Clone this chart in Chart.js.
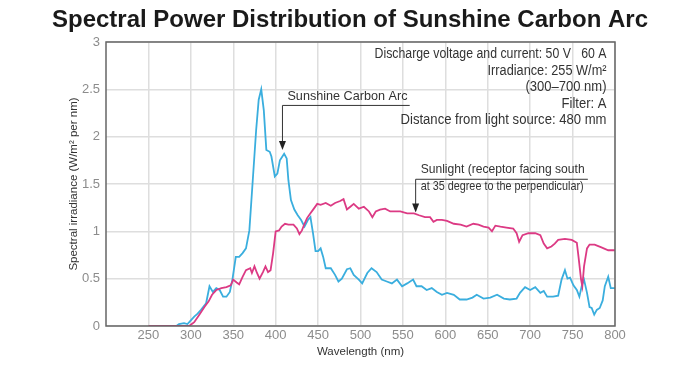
<!DOCTYPE html>
<html>
<head>
<meta charset="utf-8">
<title>Spectral Power Distribution of Sunshine Carbon Arc</title>
<script src="https://cdn.jsdelivr.net/npm/chart.js@4.4.0/dist/chart.umd.min.js"></script>
<style>
  html, body { margin: 0; padding: 0; background: #fff; }
</style>
</head>
<body>
<canvas id="spdChart" width="700" height="371"></canvas>
<script>
// wavelength (nm) and irradiance (W/m2 per nm)
const arcNm = [283, 286, 292, 296, 300, 304, 308, 312, 318, 322, 326, 330, 334, 338, 342, 346, 349, 353, 357, 361,
  365, 369, 373, 377, 380, 383, 386, 389, 393, 395, 399, 402, 405, 410, 413, 415, 418, 422, 426, 430,
  434, 438, 441, 444, 447, 450, 453, 456, 459, 465, 470, 474, 478, 484, 488, 492, 498, 502, 508, 513,
  519, 525, 531, 537, 543, 549, 555, 562, 566, 572, 578, 584, 590, 596, 602, 610, 617, 625, 632, 637,
  645, 653, 661, 669, 676, 684, 688, 694, 700, 706, 712, 716, 720, 727, 733, 737, 741, 744, 747, 751,
  755, 758, 761, 763.5, 767, 770, 772.5, 775.5, 778.5, 782, 785.5, 788, 792, 795, 800];
const arcVal = [0, 0.02, 0.03, 0.02, 0.06, 0.10, 0.13, 0.17, 0.24, 0.42, 0.36, 0.40, 0.38, 0.31, 0.31, 0.36, 0.49, 0.73, 0.73, 0.77,
  0.82, 1.01, 1.54, 2.07, 2.39, 2.50, 2.28, 1.86, 1.84, 1.79, 1.58, 1.61, 1.75, 1.82, 1.77, 1.54, 1.33, 1.23, 1.17, 1.12,
  1.05, 1.12, 1.15, 0.98, 0.79, 0.79, 0.82, 0.73, 0.61, 0.61, 0.54, 0.47, 0.50, 0.60, 0.61, 0.54, 0.49, 0.45, 0.56, 0.61,
  0.57, 0.49, 0.47, 0.45, 0.49, 0.42, 0.45, 0.49, 0.42, 0.42, 0.38, 0.40, 0.36, 0.33, 0.35, 0.33, 0.28, 0.28, 0.30, 0.33,
  0.29, 0.30, 0.33, 0.29, 0.28, 0.29, 0.35, 0.41, 0.38, 0.41, 0.35, 0.37, 0.31, 0.31, 0.32, 0.49, 0.59, 0.50, 0.51, 0.43,
  0.38, 0.31, 0.43, 0.49, 0.35, 0.20, 0.19, 0.12, 0.17, 0.19, 0.27, 0.42, 0.52, 0.40, 0.40];

const sunNm = [250, 298, 304, 310, 316, 321, 325, 330, 336, 342, 347, 350, 354, 357, 361, 365, 370, 372, 375, 378,
  381, 385, 388, 391, 394, 397, 400, 404, 407, 411, 415, 421, 425, 428, 431, 434, 437, 441, 445, 449,
  453, 459, 465, 470, 476, 480, 484, 488, 492, 498, 504, 510, 514, 518, 523, 529, 535, 541, 547, 555,
  563, 569, 576, 582, 586, 590, 596, 602, 610, 618, 625, 633, 639, 645, 651, 655, 659, 665, 672, 680,
  684, 687, 691, 698, 706, 712, 716, 720, 725, 729, 733, 741, 749, 755, 757, 760, 761.5, 763.5, 767, 770,
  776, 784, 792, 800];
const sunVal = [0, 0, 0.04, 0.12, 0.20, 0.26, 0.33, 0.38, 0.40, 0.41, 0.43, 0.49, 0.46, 0.44, 0.52, 0.59, 0.61, 0.56, 0.63, 0.56,
  0.50, 0.57, 0.63, 0.57, 0.59, 0.77, 1.00, 1.01, 1.05, 1.08, 1.07, 1.07, 1.03, 0.97, 1.01, 1.08, 1.14, 1.19, 1.24, 1.29,
  1.28, 1.30, 1.27, 1.30, 1.32, 1.34, 1.23, 1.26, 1.29, 1.24, 1.26, 1.21, 1.15, 1.21, 1.23, 1.24, 1.21, 1.21, 1.21, 1.19,
  1.19, 1.17, 1.15, 1.15, 1.10, 1.12, 1.12, 1.11, 1.08, 1.07, 1.05, 1.08, 1.07, 1.05, 1.04, 1.00, 1.06, 1.05, 1.04, 1.03,
  0.98, 0.89, 0.96, 0.98, 0.98, 0.96, 0.87, 0.82, 0.84, 0.87, 0.91, 0.92, 0.91, 0.88, 0.73, 0.49, 0.42, 0.63, 0.82, 0.86,
  0.86, 0.83, 0.80, 0.80];

const xTicks = [250, 300, 350, 400, 450, 500, 550, 600, 650, 700, 750, 800];
const yTicks = [0, 0.5, 1, 1.5, 2, 2.5, 3];

const chartTitle = 'Spectral Power Distribution of Sunshine Carbon Arc';
const infoLines = [
  'Discharge voltage and current: 50 V   60 A',
  'Irradiance: 255 W/m\u00b2',
  '(300\u2013700 nm)',
  'Filter: A',
  'Distance from light source: 480 mm'
];
const infoWidths = [232, 119, 81, 45, 206];

const FONT = "'Liberation Sans', Arial, Helvetica, sans-serif";
const arcColor = '#3aaede';
const sunColor = '#dc3a84';
const gridColor = '#dedede';
const tickColor = '#8c8c8c';
const textColor = '#333';

function toPoints(xs, ys) {
  return xs.map((v, i) => ({ x: v, y: ys[i] }));
}

function arrowDown(ctx, x, yTop, yTip) {
  ctx.beginPath();
  ctx.moveTo(x, yTop);
  ctx.lineTo(x, yTip - 8);
  ctx.stroke();
  ctx.beginPath();
  ctx.moveTo(x - 3.5, yTip - 9);
  ctx.lineTo(x + 3.5, yTip - 9);
  ctx.lineTo(x, yTip);
  ctx.closePath();
  ctx.fill();
}

// title, frame round the plot, the callouts and the test conditions text
const notes = {
  id: 'notes',
  afterDatasetsDraw(chart) {
    const { ctx, chartArea: a, scales: { x, y } } = chart;
    ctx.save();

    ctx.fillStyle = '#1a1a1a';
    ctx.font = 'bold 24px ' + FONT;
    ctx.textAlign = 'center';
    ctx.textBaseline = 'alphabetic';
    ctx.fillText(chartTitle, chart.width / 2, 27);

    ctx.strokeStyle = '#666';
    ctx.lineWidth = 1.5;
    ctx.strokeRect(a.left, a.top, a.right - a.left, a.bottom - a.top);

    ctx.strokeStyle = '#333';
    ctx.fillStyle = '#222';
    ctx.lineWidth = 1;

    // Sunshine Carbon Arc callout
    let ax = x.getPixelForValue(408), aTop = y.getPixelForValue(2.33);
    ctx.beginPath();
    ctx.moveTo(ax, aTop);
    ctx.lineTo(x.getPixelForValue(558), aTop);
    ctx.stroke();
    arrowDown(ctx, ax, aTop, y.getPixelForValue(1.86));

    // Sunlight callout
    let sx = x.getPixelForValue(565), sTop = y.getPixelForValue(1.55);
    ctx.beginPath();
    ctx.moveTo(sx, sTop);
    ctx.lineTo(x.getPixelForValue(768), sTop);
    ctx.stroke();
    arrowDown(ctx, sx, sTop, y.getPixelForValue(1.20));

    ctx.fillStyle = textColor;
    ctx.font = '13px ' + FONT;
    ctx.textAlign = 'left';
    ctx.fillText('Sunshine Carbon Arc', ax + 5, aTop - 5, 120);
    ctx.fillText('Sunlight (receptor facing south', sx + 5, sTop - 6, 164);
    ctx.fillText('at 35 degree to the perpendicular)', sx + 5, sTop + 11, 163);

    ctx.textAlign = 'right';
    ctx.font = '14px ' + FONT;
    const rx = x.getPixelForValue(790);
    infoLines.forEach((line, i) => {
      ctx.fillText(line, rx, a.top + 16 + i * 16.5, infoWidths[i]);
    });

    ctx.restore();
  }
};

new Chart(document.getElementById('spdChart'), {
  type: 'line',
  data: {
    datasets: [
      {
        label: 'Sunlight',
        data: toPoints(sunNm, sunVal),
        borderColor: sunColor,
        borderWidth: 1.8,
        pointRadius: 0,
        tension: 0,
        fill: false
      },
      {
        label: 'Sunshine Carbon Arc',
        data: toPoints(arcNm, arcVal),
        borderColor: arcColor,
        borderWidth: 1.8,
        pointRadius: 0,
        tension: 0,
        fill: false
      }
    ]
  },
  options: {
    responsive: false,
    animation: false,
    layout: { padding: { left: 60, right: 85, top: 42, bottom: 0 } },
    plugins: {
      legend: { display: false },
      tooltip: { enabled: false },
      title: { display: false }
    },
    scales: {
      x: {
        type: 'linear',
        min: 200,
        max: 800,
        afterBuildTicks: (s) => { s.ticks = xTicks.map(v => ({ value: v })); },
        afterFit: (s) => { s.height = 45; },
        ticks: { color: tickColor, font: { family: FONT, size: 13 }, padding: 2, maxRotation: 0, autoSkip: false },
        grid: { color: gridColor, lineWidth: 1.5, drawTicks: false },
        border: { display: false },
        title: {
          display: true,
          text: 'Wavelength (nm)',
          color: textColor,
          font: { family: FONT, size: 11.5 },
          padding: { top: 0, bottom: 12 }
        }
      },
      y: {
        min: 0,
        max: 3,
        afterBuildTicks: (s) => { s.ticks = yTicks.map(v => ({ value: v })); },
        afterFit: (s) => { s.width = 46; },
        ticks: {
          color: tickColor,
          font: { family: FONT, size: 13 },
          padding: 6,
          callback: (v) => String(v)
        },
        grid: { color: gridColor, lineWidth: 1.5, drawTicks: false },
        border: { display: false },
        title: {
          display: true,
          text: 'Spectral irradiance (W/m\u00b2 per nm)',
          color: textColor,
          font: { family: FONT, size: 11.5 },
          padding: { top: 7, bottom: 0 }
        }
      }
    }
  },
  plugins: [notes]
});
</script>
</body>
</html>
